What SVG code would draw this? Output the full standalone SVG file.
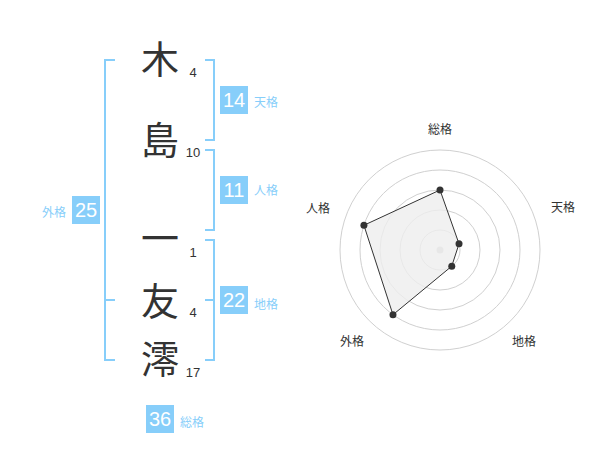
<svg xmlns="http://www.w3.org/2000/svg" width="600" height="470" viewBox="0 0 600 470">
<style>
.kanji{font-family:"Noto Sans CJK JP","Noto Sans CJK SC",sans-serif;font-size:38px;fill:#333;text-anchor:middle}
.num{font-family:"Liberation Sans",Arial,sans-serif;font-size:13px;fill:#333;text-anchor:middle}
.box{fill:#87cefa}
.boxt{font-family:"Liberation Sans",Arial,sans-serif;font-size:20px;fill:#fff;text-anchor:middle}
.lbl{font-family:"Noto Sans CJK JP","Noto Sans CJK SC",sans-serif;font-size:12px;fill:#87cefa}
.br{fill:none;stroke:#87cefa;stroke-width:2}
.ring{fill:none;stroke:#d0d0d0;stroke-width:1}
.rl{font-family:"Noto Sans CJK JP","Noto Sans CJK SC",sans-serif;font-size:12px;fill:#333;text-anchor:middle}
.dot{fill:#333}
</style>
<rect width="600" height="470" fill="#fff"/>
<g id="connectors">
<path class="br" d="M115,60 H105 V360 H115 M105,300 H115"/>
<path class="br" d="M205,60 H214 V140 H205"/>
<path class="br" d="M205,150 H214 V230 H205"/>
<path class="br" d="M205,240 H214 V360 H205 M205,300 H214"/>
</g>
<g id="char-1"><text class="kanji" x="160" y="73">木</text><text class="num" x="193" y="77">4</text></g>
<g id="char-2"><text class="kanji" x="160" y="154">島</text><text class="num" x="193" y="157">10</text></g>
<g id="char-3"><text class="kanji" x="160" y="252">一</text><text class="num" x="193" y="257">1</text></g>
<g id="char-4"><text class="kanji" x="160" y="315">友</text><text class="num" x="193" y="317">4</text></g>
<g id="char-5"><text class="kanji" x="160" y="373">澪</text><text class="num" x="193" y="377">17</text></g>
<g id="tenkaku"><rect class="box" x="220" y="86" width="28" height="28"/><text class="boxt" x="234" y="107">14</text><text class="lbl" x="254" y="107">天格</text></g>
<g id="jinkaku"><rect class="box" x="220" y="176" width="28" height="28"/><text class="boxt" x="234" y="197">11</text><text class="lbl" x="254" y="195">人格</text></g>
<g id="chikaku"><rect class="box" x="220" y="286" width="28" height="28"/><text class="boxt" x="234" y="307">22</text><text class="lbl" x="254" y="309">地格</text></g>
<g id="gaikaku"><rect class="box" x="72" y="196" width="28" height="28"/><text class="boxt" x="86" y="217">25</text><text class="lbl" x="42" y="217">外格</text></g>
<g id="soukaku"><rect class="box" x="146" y="405" width="28" height="28"/><text class="boxt" x="160" y="426">36</text><text class="lbl" x="180" y="427">総格</text></g>
<g id="radar">
<circle class="ring" cx="440" cy="250" r="20"/>
<circle class="ring" cx="440" cy="250" r="40"/>
<circle class="ring" cx="440" cy="250" r="60"/>
<circle class="ring" cx="440" cy="250" r="80"/>
<circle class="ring" cx="440" cy="250" r="100"/>
<circle cx="440" cy="250" r="3.5" fill="#ccc"/>
<polygon points="440,190 459.02,243.82 451.76,266.18 392.98,314.72 363.92,225.28" fill="#eee" fill-opacity="0.8" stroke="#333" stroke-width="1"/>
<circle class="dot" cx="440" cy="190" r="3.5"/>
<circle class="dot" cx="459.02" cy="243.82" r="3.5"/>
<circle class="dot" cx="451.76" cy="266.18" r="3.5"/>
<circle class="dot" cx="392.98" cy="314.72" r="3.5"/>
<circle class="dot" cx="363.92" cy="225.28" r="3.5"/>
<text class="rl" x="440" y="134">総格</text>
<text class="rl" x="563" y="212">天格</text>
<text class="rl" x="318" y="213">人格</text>
<text class="rl" x="352" y="346">外格</text>
<text class="rl" x="524" y="346">地格</text>
</g>
</svg>
